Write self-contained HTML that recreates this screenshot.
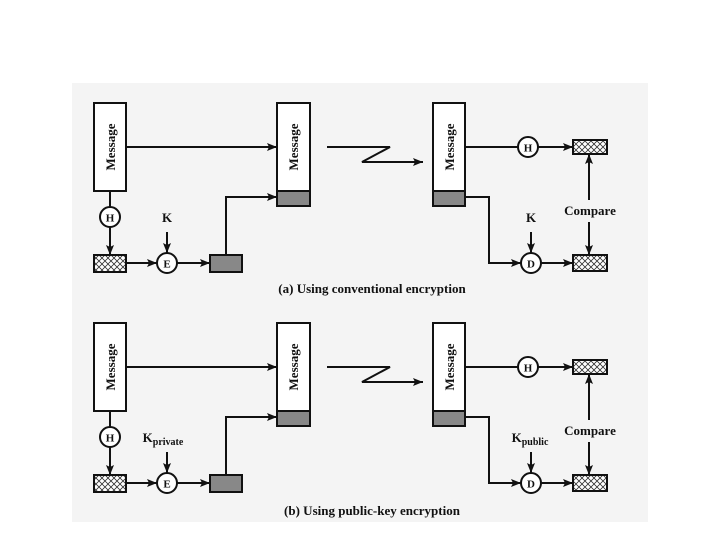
<!DOCTYPE html>
<html><head><style>
html,body{margin:0;padding:0;background:#fff;width:720px;height:540px;overflow:hidden}
svg{display:block}
text{font-family:"Liberation Serif",serif;font-weight:bold;fill:#111}
</style></head><body>
<svg width="720" height="540" viewBox="0 0 720 540" xmlns="http://www.w3.org/2000/svg">
<defs>
<marker id="a" viewBox="0 0 10 10" refX="10" refY="5" markerWidth="10" markerHeight="8" orient="auto-start-reverse" markerUnits="userSpaceOnUse" preserveAspectRatio="none"><path d="M0,0 L10,5 L0,10 L2,5 Z" fill="#111"/></marker>
<pattern id="h" width="6" height="6" patternUnits="userSpaceOnUse"><rect width="6" height="6" fill="#fff"/><path d="M0,0 L6,6 M6,0 L0,6" stroke="#333" stroke-width="0.8"/></pattern>
<g id="panel" stroke="#111" fill="none" stroke-width="2">
  <rect x="94" y="103" width="32" height="88" fill="#fff"/>
  <text x="0" y="0" transform="translate(115,147) rotate(-90)" text-anchor="middle" font-size="13" stroke="none">Message</text>
  <line x1="126" y1="147" x2="277" y2="147" marker-end="url(#a)"/>
  <line x1="110" y1="191" x2="110" y2="207"/>
  <circle cx="110" cy="217" r="10" fill="#fff"/>
  <line x1="110" y1="227" x2="110" y2="255" marker-end="url(#a)"/>
  <rect x="94" y="255" width="32" height="17" fill="url(#h)"/>
  <line x1="126" y1="263" x2="157" y2="263" marker-end="url(#a)"/>
  <circle cx="167" cy="263" r="10" fill="#fff"/>
  <text x="167" y="267.5" text-anchor="middle" font-size="11" stroke="none">E</text>
  <line x1="167" y1="232" x2="167" y2="253" marker-end="url(#a)"/>
  <line x1="177" y1="263" x2="210" y2="263" marker-end="url(#a)"/>
  <rect x="210" y="255" width="32" height="17" fill="#888"/>
  <polyline points="226,255 226,197 277,197" marker-end="url(#a)"/>
  <rect x="277" y="103" width="33" height="88" fill="#fff"/>
  <rect x="277" y="191" width="33" height="15" fill="#888"/>
  <text x="0" y="0" transform="translate(298,147) rotate(-90)" text-anchor="middle" font-size="13" stroke="none">Message</text>
  <polyline points="327,147 390,147 362,162 423,162" marker-end="url(#a)"/>
  <rect x="433" y="103" width="32" height="88" fill="#fff"/>
  <rect x="433" y="191" width="32" height="15" fill="#888"/>
  <text x="0" y="0" transform="translate(454,147) rotate(-90)" text-anchor="middle" font-size="13" stroke="none">Message</text>
  <line x1="465" y1="147" x2="518" y2="147"/>
  <circle cx="528" cy="147" r="10" fill="#fff"/>
  <text x="528" y="151.5" text-anchor="middle" font-size="11" stroke="none">H</text>
  <line x1="538" y1="147" x2="573" y2="147" marker-end="url(#a)"/>
  <rect x="573" y="140" width="34" height="14" fill="url(#h)"/>
  <polyline points="465,197 489,197 489,263 521,263" marker-end="url(#a)"/>
  <circle cx="531" cy="263" r="10" fill="#fff"/>
  <text x="531" y="267.5" text-anchor="middle" font-size="11" stroke="none">D</text>
  <line x1="531" y1="232" x2="531" y2="253" marker-end="url(#a)"/>
  <line x1="541" y1="263" x2="573" y2="263" marker-end="url(#a)"/>
  <rect x="573" y="255" width="34" height="16" fill="url(#h)"/>
  <line x1="589" y1="200" x2="589" y2="154" marker-end="url(#a)"/>
  <line x1="589" y1="222" x2="589" y2="255" marker-end="url(#a)"/>
  <text x="590" y="215" text-anchor="middle" font-size="13" stroke="none">Compare</text>
</g>
</defs>
<rect x="72" y="83" width="576" height="439" fill="#f4f4f4"/>
<use href="#panel"/>
<text x="110" y="221.5" text-anchor="middle" font-size="11">H</text>
<text x="167" y="222" text-anchor="middle" font-size="13">K</text>
<text x="531" y="222" text-anchor="middle" font-size="13">K</text>
<text x="372" y="293" text-anchor="middle" font-size="13">(a) Using conventional encryption</text>
<g transform="translate(0,220)">
<use href="#panel"/>
<text x="110" y="221.5" text-anchor="middle" font-size="11">H</text>
<text x="163" y="222" text-anchor="middle" font-size="13">K<tspan font-size="10" dy="3">private</tspan></text>
<text x="530" y="222" text-anchor="middle" font-size="13">K<tspan font-size="10" dy="3">public</tspan></text>
<text x="372" y="295" text-anchor="middle" font-size="13">(b) Using public-key encryption</text>
</g>
</svg>
</body></html>
